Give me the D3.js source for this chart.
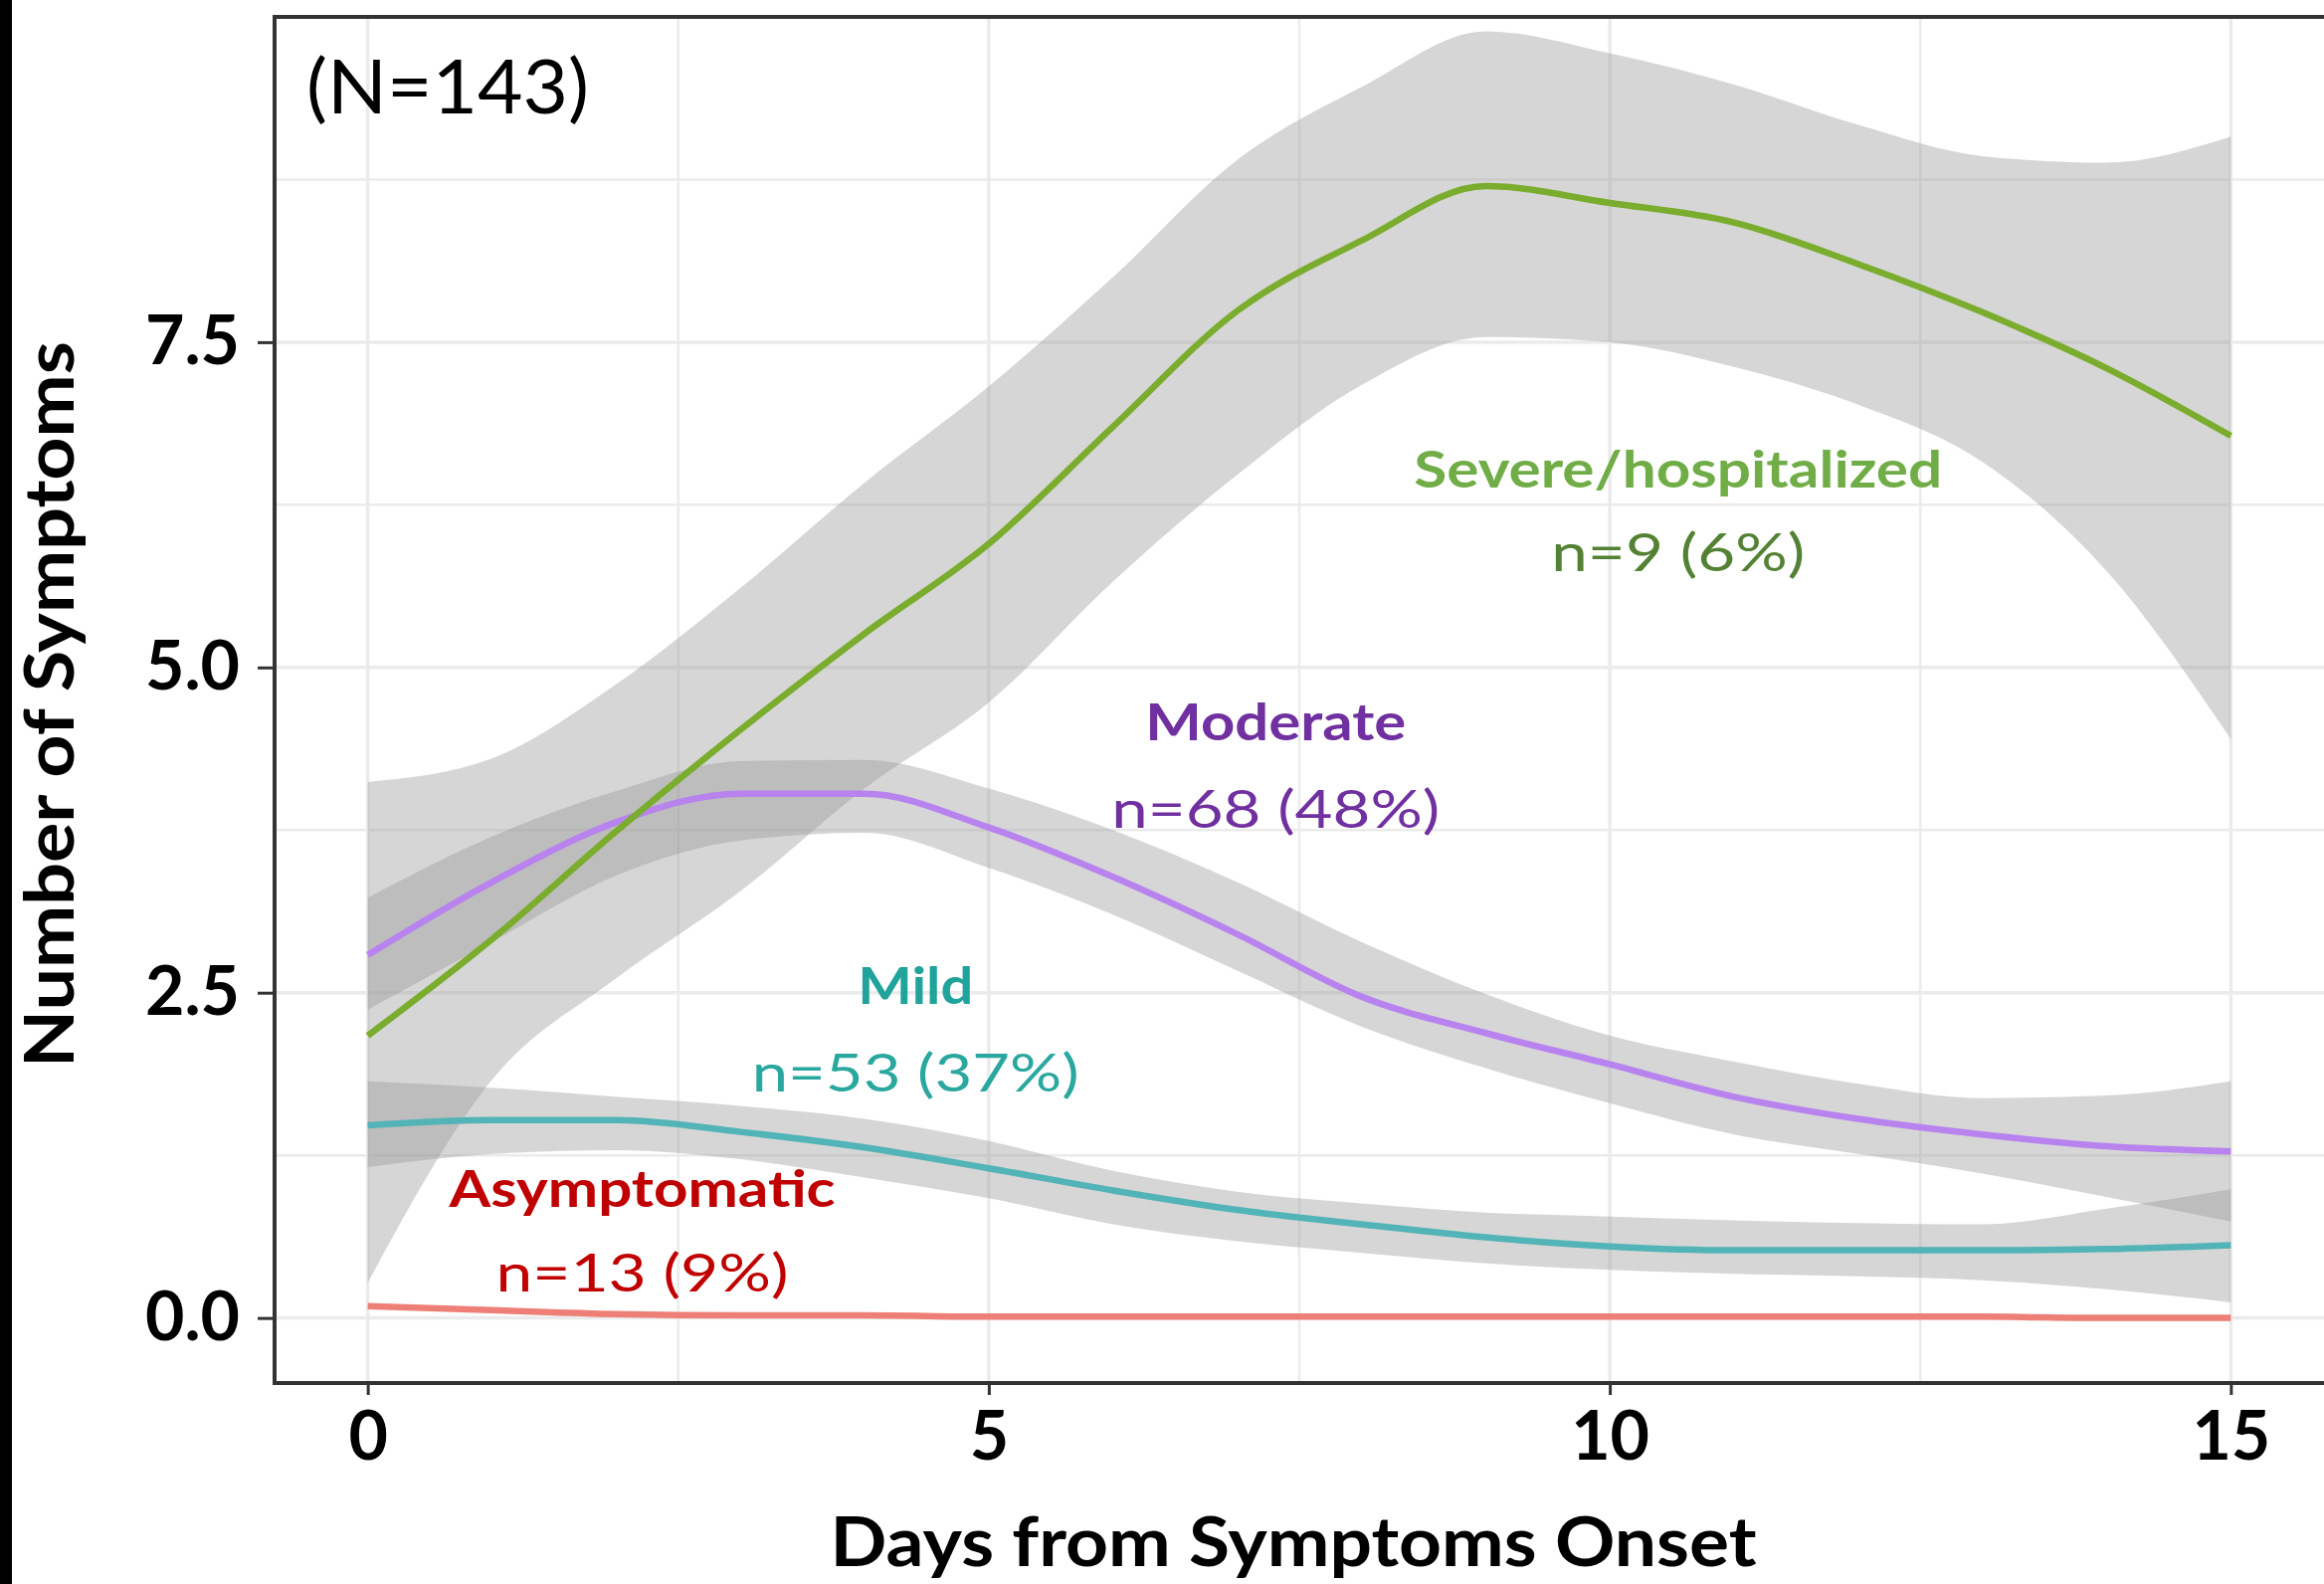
<!DOCTYPE html>
<meta charset="utf-8">
<style>
body { margin: 0; background: #fff; }
text { font-family: Lato, "Open Sans", sans-serif; }
.grid-major { stroke: #ebebeb; stroke-width: 3.5px; }
.grid-minor { stroke: #ebebeb; stroke-width: 2.5px; }
.ribbon { fill: #999; fill-opacity: 0.4; stroke: none; }
.line { fill: none; stroke-width: 6.5px; stroke-linejoin: round; stroke-linecap: butt; }
.axis text { font-weight: 700; font-size: 68px; fill: #000; }
.axis line { stroke: #333; stroke-width: 3px; }
.axis path { display: none; }
</style>
<body>
<script src="https://d3js.org/d3.v7.min.js"></script>
<script>

// ---- data (loess fit + 95% band) ----
var days = [0, 1, 2, 3, 4, 5, 6, 7, 8, 9, 10, 11, 12, 13, 14, 15];

var severeFit  = [2.17, 2.91, 3.74, 4.52, 5.26, 5.95, 6.85, 7.74, 8.28, 8.70, 8.57, 8.42, 8.10, 7.73, 7.30, 6.78];
var severeLow  = [0.27, 1.83, 2.61, 3.28, 4.07, 4.73, 5.66, 6.48, 7.17, 7.54, 7.50, 7.31, 7.02, 6.58, 5.74, 4.45];
var severeHigh = [4.12, 4.30, 4.87, 5.61, 6.42, 7.16, 8.00, 8.90, 9.46, 9.89, 9.72, 9.48, 9.17, 8.93, 8.88, 9.08];

var moderateFit  = [2.79, 3.35, 3.81, 4.03, 4.03, 3.77, 3.39, 2.95, 2.47, 2.19, 1.95, 1.70, 1.53, 1.41, 1.32, 1.28];
var moderateLow  = [2.37, 2.89, 3.40, 3.67, 3.73, 3.46, 3.10, 2.67, 2.24, 1.92, 1.65, 1.41, 1.26, 1.11, 0.93, 0.74];
var moderateHigh = [3.23, 3.70, 4.05, 4.28, 4.29, 4.07, 3.75, 3.35, 2.89, 2.49, 2.17, 1.97, 1.80, 1.69, 1.71, 1.82];

var mildFit  = [1.48, 1.52, 1.52, 1.43, 1.31, 1.15, 0.98, 0.83, 0.72, 0.62, 0.55, 0.52, 0.52, 0.52, 0.53, 0.56];
var mildLow  = [1.16, 1.26, 1.29, 1.22, 1.08, 0.92, 0.72, 0.59, 0.50, 0.42, 0.37, 0.34, 0.32, 0.29, 0.22, 0.12];
var mildHigh = [1.82, 1.77, 1.70, 1.63, 1.53, 1.36, 1.13, 0.97, 0.88, 0.81, 0.78, 0.75, 0.73, 0.72, 0.84, 0.99];

var asymFit = [0.09, 0.06, 0.03, 0.02, 0.02, 0.01, 0.01, 0.01, 0.01, 0.01, 0.01, 0.01, 0.01, 0.01, 0.0, 0.0];

var xTicks = [0, 5, 10, 15];
var yTicks = [0, 2.5, 5, 7.5];

var groupNames  = ["Asymptomatic", "Mild", "Moderate", "Severe/hospitalized"];
var groupCounts = ["n=13 (9%)", "n=53 (37%)", "n=68 (48%)", "n=9 (6%)"];
var totalLabel  = "(N=143)";

// ---- layout ----
var W = 2336, H = 1592;
var panel = {left: 276, top: 17, right: 2336, bottom: 1390};

var svg = d3.select("body").append("svg")
    .attr("width", W)
    .attr("height", H);

svg.append("rect").attr("width", W).attr("height", H).attr("fill", "#fff");
// dark strip on the left edge of the figure
svg.append("rect").attr("x", 0).attr("y", 0).attr("width", 12).attr("height", H).attr("fill", "#000");

var x = d3.scaleLinear().domain([-0.75, 15.75]).range([panel.left, panel.right]);
var y = d3.scaleLinear().domain([-0.5, 10]).range([panel.bottom, panel.top]);

// grid
var g = svg.append("g");
var minorX = [], minorY = [];
for (var i = 0; i < xTicks.length - 1; i++) minorX.push((xTicks[i] + xTicks[i + 1]) / 2);
for (var j = 0; j < yTicks.length - 1; j++) minorY.push((yTicks[j] + yTicks[j + 1]) / 2);
minorY.push(yTicks[yTicks.length - 1] + 1.25);

g.selectAll(".gmx").data(minorX).enter().append("line")
    .attr("class", "grid-minor")
    .attr("x1", d => x(d)).attr("x2", d => x(d))
    .attr("y1", panel.top).attr("y2", panel.bottom);
g.selectAll(".gmy").data(minorY).enter().append("line")
    .attr("class", "grid-minor")
    .attr("x1", panel.left).attr("x2", panel.right)
    .attr("y1", d => y(d)).attr("y2", d => y(d));
g.selectAll(".gMx").data(xTicks).enter().append("line")
    .attr("class", "grid-major")
    .attr("x1", d => x(d)).attr("x2", d => x(d))
    .attr("y1", panel.top).attr("y2", panel.bottom);
g.selectAll(".gMy").data(yTicks).enter().append("line")
    .attr("class", "grid-major")
    .attr("x1", panel.left).attr("x2", panel.right)
    .attr("y1", d => y(d)).attr("y2", d => y(d));

// series table
var series = [
  {fit: asymFit,     low: null,        high: null,         color: "#ee7f76"},
  {fit: mildFit,     low: mildLow,     high: mildHigh,     color: "#52b4b7"},
  {fit: moderateFit, low: moderateLow, high: moderateHigh, color: "#b883ee"},
  {fit: severeFit,   low: severeLow,   high: severeHigh,   color: "#7aad2e"}
];

var area = d3.area()
    .x(d => x(d.day))
    .y0(d => y(d.low))
    .y1(d => y(d.high))
    .curve(d3.curveMonotoneX);

var line = d3.line()
    .x(d => x(d.day))
    .y(d => y(d.v))
    .curve(d3.curveMonotoneX);

// ribbons first, then lines
series.forEach(function(s) {
  if (!s.low) return;
  var pts = days.map((d, k) => ({day: d, low: s.low[k], high: s.high[k]}));
  svg.append("path").attr("class", "ribbon").attr("d", area(pts));
});
series.forEach(function(s) {
  var pts = days.map((d, k) => ({day: d, v: s.fit[k]}));
  svg.append("path").attr("class", "line").attr("stroke", s.color).attr("d", line(pts));
});

// panel border
svg.append("rect")
    .attr("x", panel.left).attr("y", panel.top)
    .attr("width", panel.right - panel.left + 20)
    .attr("height", panel.bottom - panel.top)
    .attr("fill", "none")
    .attr("stroke", "#333")
    .attr("stroke-width", 4);

// axes
svg.append("g")
    .attr("class", "axis")
    .attr("transform", "translate(0," + panel.bottom + ")")
    .call(d3.axisBottom(x).tickValues(xTicks).tickSize(12).tickPadding(17).tickFormat(d3.format("d")));

svg.append("g")
    .attr("class", "axis")
    .attr("transform", "translate(" + panel.left + ",0)")
    .call(d3.axisLeft(y).tickValues(yTicks).tickSize(17).tickPadding(18).tickFormat(d3.format(".1f")));

// axis titles
svg.append("text")
    .attr("x", 1300).attr("y", 1574)
    .attr("text-anchor", "middle")
    .attr("font-size", 68).attr("font-weight", 700)
    .attr("textLength", 931).attr("lengthAdjust", "spacingAndGlyphs")
    .text("Days from Symptoms Onset");

svg.append("text")
    .attr("transform", "translate(74,708) rotate(-90)")
    .attr("text-anchor", "middle")
    .attr("font-size", 68).attr("font-weight", 700)
    .attr("textLength", 730).attr("lengthAdjust", "spacingAndGlyphs")
    .text("Number of Symptoms");

// total N
svg.append("text")
    .attr("x", panel.left + 32).attr("y", panel.top + 97)
    .attr("font-size", 76)
    .attr("textLength", 284).attr("lengthAdjust", "spacingAndGlyphs")
    .text(totalLabel);

// group labels (name bold, count regular), placed in data units
var labels = [
  {name: groupNames[3], count: groupCounts[3], day: 10.55, v1: 6.38, v2: 5.74, w1: 531, w2: 255, c1: "#70ad47", c2: "#548235"},
  {name: groupNames[2], count: groupCounts[2], day: 7.31,  v1: 4.44, v2: 3.77, w1: 262, w2: 330, c1: "#7030a0", c2: "#7030a0"},
  {name: groupNames[1], count: groupCounts[1], day: 4.41,  v1: 2.41, v2: 1.74, w1: 116, w2: 329, c1: "#1fa39b", c2: "#2aa79f"},
  {name: groupNames[0], count: groupCounts[0], day: 2.21,  v1: 0.853, v2: 0.2, w1: 388, w2: 294, c1: "#c00000", c2: "#c00000"}
];

labels.forEach(function(l) {
  svg.append("text")
      .attr("x", x(l.day)).attr("y", y(l.v1))
      .attr("text-anchor", "middle")
      .attr("font-size", 51).attr("font-weight", 700)
      .attr("fill", l.c1)
      .attr("textLength", l.w1).attr("lengthAdjust", "spacingAndGlyphs")
      .text(l.name);
  svg.append("text")
      .attr("x", x(l.day)).attr("y", y(l.v2))
      .attr("text-anchor", "middle")
      .attr("font-size", 53)
      .attr("fill", l.c2)
      .attr("textLength", l.w2).attr("lengthAdjust", "spacingAndGlyphs")
      .text(l.count);
});

</script>
</body>
